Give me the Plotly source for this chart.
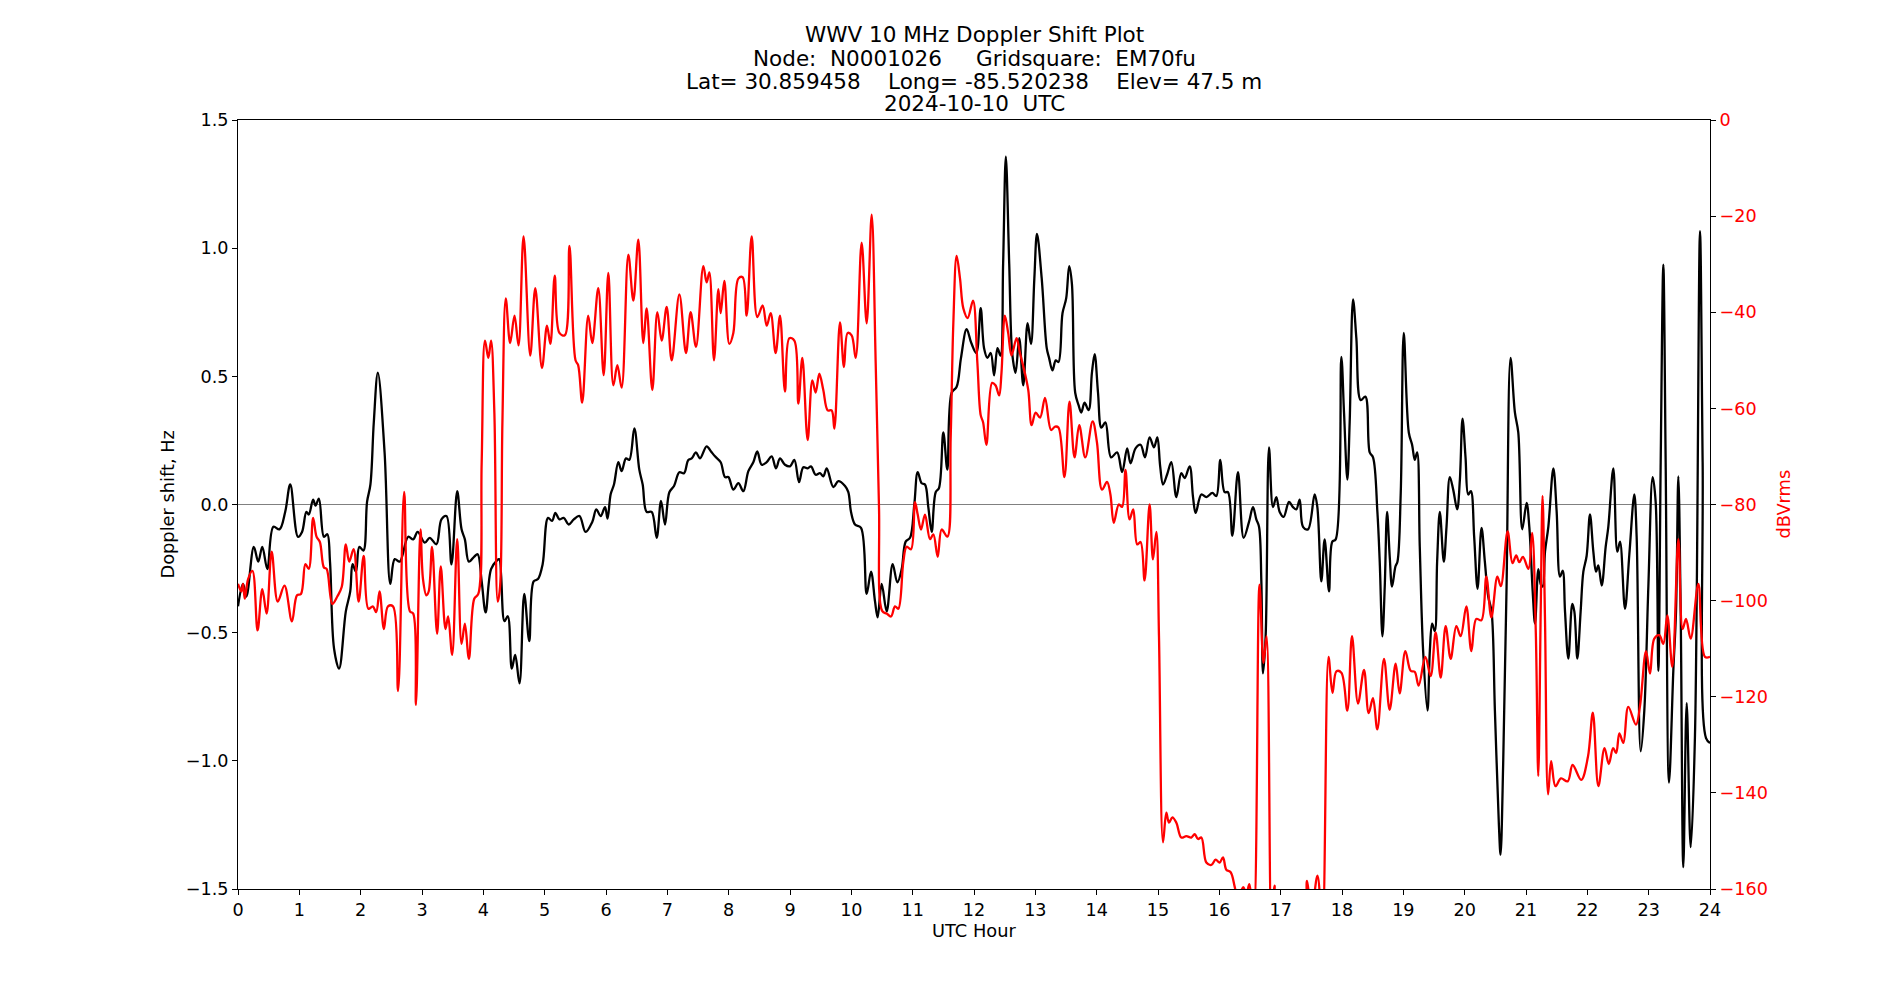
import plotly.graph_objects as go

# ---- Data ----
black_hours = [
    0.000, 0.082, 0.137, 0.258, 0.330, 0.396, 0.478, 0.577, 0.676, 0.769,
    0.852, 0.978, 1.044, 1.115, 1.154, 1.225, 1.264, 1.319, 1.401, 1.456,
    1.500, 1.566, 1.648, 1.758, 1.830, 1.868, 1.923, 1.978, 2.044, 2.104,
    2.159, 2.214, 2.280, 2.390, 2.484, 2.555, 2.637, 2.775, 2.857, 2.929,
    3.044, 3.126, 3.235, 3.317, 3.399, 3.481, 3.574, 3.645, 3.699, 3.765,
    3.852, 3.907, 3.973, 4.038, 4.126, 4.219, 4.257, 4.344, 4.399, 4.464,
    4.519, 4.590, 4.667, 4.749, 4.820, 4.891, 4.967, 5.055, 5.120, 5.175,
    5.240, 5.311, 5.393, 5.475, 5.568, 5.667, 5.776, 5.842, 5.913, 5.984,
    6.025, 6.076, 6.130, 6.201, 6.255, 6.326, 6.380, 6.462, 6.543, 6.598,
    6.663, 6.745, 6.826, 6.897, 6.962, 7.033, 7.109, 7.196, 7.272, 7.342,
    7.397, 7.467, 7.533, 7.641, 7.712, 7.777, 7.870, 7.940, 7.995, 8.076,
    8.158, 8.239, 8.321, 8.402, 8.467, 8.538, 8.620, 8.701, 8.772, 8.837,
    8.918, 9.000, 9.071, 9.147, 9.217, 9.288, 9.342, 9.418, 9.489, 9.543,
    9.598, 9.707, 9.788, 9.897, 9.951, 9.995, 10.060, 10.158, 10.250, 10.321,
    10.386, 10.429, 10.495, 10.576, 10.674, 10.750, 10.821, 10.886, 10.957, 11.027,
    11.082, 11.147, 11.201, 11.255, 11.310, 11.375, 11.429, 11.500, 11.565, 11.636,
    11.717, 11.788, 11.880, 11.956, 12.038, 12.109, 12.164, 12.219, 12.273, 12.328,
    12.383, 12.432, 12.475, 12.519, 12.574, 12.623, 12.678, 12.738, 12.803, 12.874,
    12.929, 12.984, 13.027, 13.104, 13.186, 13.224, 13.279, 13.333, 13.377, 13.443,
    13.503, 13.552, 13.596, 13.650, 13.705, 13.749, 13.803, 13.869, 13.923, 13.967,
    14.022, 14.077, 14.142, 14.235, 14.333, 14.415, 14.497, 14.552, 14.634, 14.716,
    14.787, 14.863, 14.934, 14.989, 15.035, 15.082, 15.147, 15.217, 15.299, 15.380,
    15.435, 15.516, 15.571, 15.614, 15.707, 15.788, 15.886, 15.951, 16.016, 16.087,
    16.141, 16.212, 16.304, 16.397, 16.484, 16.549, 16.603, 16.647, 16.685, 16.712,
    16.755, 16.810, 16.875, 16.929, 16.984, 17.049, 17.136, 17.201, 17.255, 17.310,
    17.364, 17.446, 17.554, 17.598, 17.663, 17.717, 17.788, 17.842, 17.897, 17.989,
    18.033, 18.087, 18.125, 18.180, 18.234, 18.305, 18.381, 18.452, 18.506, 18.577,
    18.615, 18.659, 18.697, 18.735, 18.778, 18.816, 18.871, 18.904, 18.958, 19.007,
    19.089, 19.143, 19.187, 19.225, 19.268, 19.323, 19.394, 19.432, 19.470, 19.513,
    19.551, 19.595, 19.660, 19.704, 19.758, 19.813, 19.878, 19.922, 19.965, 20.014,
    20.058, 20.101, 20.155, 20.210, 20.275, 20.329, 20.384, 20.438, 20.493, 20.558,
    20.585, 20.629, 20.683, 20.748, 20.819, 20.874, 20.939, 21.010, 21.054, 21.109,
    21.147, 21.201, 21.239, 21.272, 21.310, 21.364, 21.446, 21.500, 21.554, 21.598,
    21.636, 21.690, 21.755, 21.788, 21.837, 21.891, 21.935, 21.989, 22.043, 22.098,
    22.141, 22.179, 22.234, 22.299, 22.342, 22.424, 22.489, 22.533, 22.614, 22.685,
    22.766, 22.804, 22.870, 22.929, 22.995, 23.065, 23.114, 23.158, 23.196, 23.239,
    23.277, 23.332, 23.402, 23.446, 23.484, 23.522, 23.565, 23.620, 23.685, 23.755,
    23.837, 23.880, 23.935, 24.000,
]
doppler_hz = [
    -0.397, -0.310, -0.359, -0.165, -0.223, -0.165, -0.252, -0.087, -0.097, -0.029,
    0.078, -0.126, -0.107, -0.029, -0.039, 0.019, -0.004, 0.023, -0.126, -0.116,
    -0.223, -0.562, -0.640, -0.417, -0.339, -0.233, -0.262, -0.165, -0.180, 0.010,
    0.078, 0.320, 0.514, 0.203, -0.310, -0.213, -0.223, -0.126, -0.136, -0.107,
    -0.149, -0.130, -0.155, -0.058, -0.045, -0.233, 0.052, -0.097, -0.136, -0.223,
    -0.203, -0.194, -0.300, -0.421, -0.252, -0.219, -0.213, -0.455, -0.436, -0.640,
    -0.587, -0.698, -0.349, -0.533, -0.300, -0.291, -0.233, -0.052, -0.064, -0.033,
    -0.058, -0.052, -0.078, -0.058, -0.045, -0.107, -0.068, -0.019, -0.045, -0.010,
    -0.055, 0.040, 0.078, 0.165, 0.130, 0.180, 0.174, 0.297, 0.136, 0.078,
    -0.029, -0.029, -0.130, 0.014, -0.078, 0.048, 0.072, 0.126, 0.122, 0.174,
    0.180, 0.203, 0.180, 0.227, 0.207, 0.188, 0.165, 0.107, 0.107, 0.058,
    0.083, 0.052, 0.130, 0.165, 0.207, 0.155, 0.165, 0.188, 0.141, 0.180,
    0.155, 0.149, 0.174, 0.087, 0.145, 0.141, 0.149, 0.116, 0.122, 0.110,
    0.141, 0.068, 0.091, 0.072, 0.048, -0.029, -0.078, -0.091, -0.349, -0.262,
    -0.378, -0.440, -0.310, -0.417, -0.233, -0.304, -0.252, -0.145, -0.130, 0.000,
    0.126, 0.083, 0.078, -0.010, -0.107, 0.048, 0.064, 0.281, 0.136, 0.436,
    0.459, 0.572, 0.684, 0.630, 0.591, 0.766, 0.610, 0.572, 0.591, 0.504,
    0.610, 0.581, 0.940, 1.357, 0.940, 0.591, 0.514, 0.649, 0.465, 0.707,
    0.626, 0.882, 1.056, 0.882, 0.610, 0.572, 0.523, 0.562, 0.556, 0.746,
    0.804, 0.930, 0.862, 0.436, 0.388, 0.359, 0.397, 0.368, 0.514, 0.587,
    0.436, 0.300, 0.320, 0.184, 0.203, 0.126, 0.219, 0.161, 0.219, 0.233,
    0.184, 0.262, 0.223, 0.262, 0.150, 0.078, 0.116, 0.165, 0.029, 0.122,
    0.103, 0.149, 0.029, -0.033, 0.039, 0.029, 0.045, 0.033, 0.174, 0.048,
    0.048, -0.122, 0.126, -0.130, -0.068, -0.010, -0.058, -0.087, -0.300, -0.659,
    -0.514, 0.223, -0.010, 0.029, -0.029, -0.048, 0.010, -0.010, -0.019, 0.019,
    -0.087, -0.097, 0.039, -0.010, -0.300, -0.136, -0.339, -0.145, -0.136, 0.576,
    0.359, 0.097, 0.320, 0.800, 0.649, 0.407, 0.421, 0.203, 0.184, -0.029,
    -0.223, -0.514, -0.320, -0.029, -0.203, -0.320, -0.242, -0.223, 0.048, 0.669,
    0.281, 0.233, 0.174, 0.203, -0.165, -0.572, -0.804, -0.572, -0.465, -0.494,
    -0.223, -0.029, -0.223, -0.087, 0.107, 0.058, -0.019, 0.097, 0.335, 0.184,
    0.039, 0.052, -0.126, -0.329, -0.091, -0.223, -0.359, -0.417, -0.804, -1.250,
    -1.366, -0.998, -0.320, 0.572, 0.359, 0.281, -0.097, 0.006, -0.087, -0.339,
    -0.465, -0.252, -0.310, -0.320, -0.184, -0.087, 0.141, -0.029, -0.281, -0.258,
    -0.417, -0.601, -0.388, -0.417, -0.601, -0.417, -0.262, -0.200, -0.039, -0.184,
    -0.262, -0.238, -0.316, -0.165, -0.087, 0.141, -0.184, -0.145, -0.407, -0.194,
    0.039, -0.126, -0.963, -0.804, -0.320, 0.107, 0.010, -0.649, 0.165, 0.936,
    0.165, -1.085, -0.649, -0.417, 0.110, -0.417, -1.415, -0.775, -1.337, -0.901,
    1.066, 0.165, -0.911, -0.930,
]

red_hours = [
    0.000, 0.055, 0.082, 0.110, 0.165, 0.236, 0.319, 0.396, 0.467, 0.549,
    0.648, 0.758, 0.879, 0.962, 1.027, 1.099, 1.154, 1.225, 1.280, 1.335,
    1.401, 1.445, 1.538, 1.621, 1.692, 1.758, 1.813, 1.885, 1.967, 2.049,
    2.126, 2.198, 2.253, 2.308, 2.379, 2.445, 2.527, 2.610, 2.709, 2.802,
    2.857, 2.901, 2.975, 3.016, 3.071, 3.109, 3.164, 3.246, 3.306, 3.383,
    3.426, 3.492, 3.574, 3.645, 3.699, 3.765, 3.852, 3.918, 3.973, 4.027,
    4.082, 4.126, 4.180, 4.235, 4.273, 4.311, 4.366, 4.437, 4.508, 4.574,
    4.656, 4.765, 4.847, 4.956, 5.038, 5.093, 5.164, 5.240, 5.328, 5.404,
    5.503, 5.546, 5.612, 5.710, 5.776, 5.874, 5.962, 6.038, 6.120, 6.185,
    6.255, 6.364, 6.446, 6.527, 6.609, 6.663, 6.755, 6.837, 6.908, 6.989,
    7.071, 7.196, 7.304, 7.380, 7.467, 7.587, 7.641, 7.685, 7.761, 7.832,
    7.870, 7.929, 8.011, 8.076, 8.158, 8.228, 8.293, 8.375, 8.467, 8.554,
    8.620, 8.685, 8.766, 8.837, 8.918, 8.989, 9.071, 9.136, 9.201, 9.288,
    9.364, 9.418, 9.478, 9.543, 9.614, 9.679, 9.723, 9.815, 9.880, 9.940,
    10.005, 10.071, 10.168, 10.250, 10.332, 10.397, 10.451, 10.505, 10.576, 10.647,
    10.712, 10.766, 10.848, 10.902, 10.973, 11.038, 11.082, 11.136, 11.201, 11.283,
    11.337, 11.408, 11.473, 11.565, 11.620, 11.663, 11.717, 11.772, 11.826, 11.897,
    11.984, 12.055, 12.109, 12.148, 12.202, 12.295, 12.350, 12.410, 12.448, 12.503,
    12.557, 12.612, 12.694, 12.749, 12.820, 12.885, 12.940, 13.005, 13.077, 13.158,
    13.257, 13.322, 13.377, 13.475, 13.557, 13.639, 13.716, 13.814, 13.934, 14.005,
    14.087, 14.169, 14.224, 14.279, 14.361, 14.415, 14.470, 14.536, 14.596, 14.661,
    14.716, 14.781, 14.863, 14.918, 14.973, 15.016, 15.082, 15.136, 15.179, 15.234,
    15.299, 15.380, 15.462, 15.543, 15.598, 15.652, 15.707, 15.788, 15.870, 15.940,
    16.005, 16.060, 16.114, 16.185, 16.250, 16.300, 16.390, 16.440, 16.490, 16.560,
    16.655, 16.720, 16.770, 16.850, 16.900, 16.950, 17.350, 17.430, 17.500, 17.600,
    17.680, 17.780, 17.845, 17.910, 17.990, 18.087, 18.163, 18.261, 18.359, 18.435,
    18.505, 18.576, 18.685, 18.777, 18.875, 18.940, 19.033, 19.120, 19.185, 19.250,
    19.359, 19.446, 19.527, 19.609, 19.690, 19.772, 19.864, 19.935, 20.027, 20.109,
    20.190, 20.272, 20.353, 20.435, 20.533, 20.590, 20.700, 20.780, 20.840, 20.890,
    20.950, 21.040, 21.100, 21.160, 21.200, 21.240, 21.270, 21.310, 21.360, 21.410,
    21.480, 21.570, 21.680, 21.760, 21.900, 22.010, 22.090, 22.180, 22.280, 22.350,
    22.420, 22.470, 22.522, 22.587, 22.668, 22.793, 22.859, 22.957, 23.022, 23.092,
    23.174, 23.239, 23.304, 23.386, 23.484, 23.554, 23.609, 23.685, 23.810, 23.918,
    24.000,
]
power_dbv = [
    -96.5, -98.1, -96.5, -99.6, -95.5, -93.8, -106.2, -97.6, -102.7, -89.8,
    -100.2, -96.9, -104.3, -98.9, -98.6, -92.4, -93.4, -82.8, -86.7, -87.8,
    -93.1, -93.4, -100.7, -99.1, -97.1, -88.3, -91.9, -89.3, -100.2, -90.7,
    -101.7, -101.2, -102.4, -98.1, -105.9, -101.2, -101.2, -118.8, -77.4, -102.2,
    -102.7, -121.7, -85.2, -95.5, -98.9, -98.1, -88.8, -106.9, -92.9, -105.9,
    -103.3, -111.3, -87.2, -109.0, -104.8, -112.1, -99.6, -98.6, -71.2, -45.9,
    -49.5, -45.9, -60.9, -100.2, -97.1, -62.9, -37.1, -46.4, -40.7, -46.9,
    -24.2, -49.0, -35.0, -51.6, -42.8, -46.6, -32.4, -44.3, -44.8, -26.2,
    -50.0, -51.0, -58.8, -40.7, -46.4, -35.0, -53.1, -31.8, -55.2, -51.0,
    -55.7, -28.0, -37.6, -24.9, -46.4, -39.2, -56.2, -40.0, -45.9, -38.9,
    -50.0, -36.3, -48.5, -40.0, -47.2, -30.4, -33.8, -31.7, -50.0, -35.2,
    -40.2, -33.5, -46.6, -44.3, -33.0, -32.7, -40.7, -24.2, -41.0, -38.6,
    -42.8, -40.2, -48.5, -40.7, -56.5, -45.4, -45.9, -59.0, -49.5, -66.6,
    -54.2, -56.7, -52.8, -56.2, -60.4, -60.4, -64.2, -42.1, -51.4, -44.3,
    -44.8, -49.5, -25.5, -42.3, -19.7, -50.5, -80.5, -102.2, -102.7, -103.3,
    -101.2, -101.7, -91.9, -88.8, -89.3, -79.5, -82.1, -85.2, -82.1, -87.2,
    -86.2, -90.9, -85.2, -86.7, -66.0, -42.3, -28.3, -33.0, -39.2, -41.2,
    -37.6, -50.5, -61.4, -62.9, -67.6, -54.7, -55.2, -57.3, -52.6, -40.7,
    -44.3, -49.0, -45.4, -48.5, -52.1, -56.2, -63.5, -60.9, -61.9, -57.8,
    -64.5, -63.8, -64.0, -74.3, -58.6, -70.2, -63.5, -70.2, -62.7, -67.1,
    -76.9, -75.3, -77.9, -83.8, -80.0, -80.5, -72.8, -83.1, -81.0, -88.3,
    -87.8, -95.8, -80.0, -91.4, -85.7, -107.4, -150.3, -144.1, -146.2, -145.1,
    -146.2, -149.3, -149.0, -149.3, -148.6, -149.6, -149.3, -154.5, -155.0, -153.9,
    -154.5, -153.4, -156.0, -156.5, -159.5, -162.0, -159.6, -161.0, -159.0, -166.0,
    -96.7, -113.0, -107.4, -168.0, -159.3, -168.0, -168.0, -158.3, -165.0, -157.2,
    -168.0, -111.7, -119.2, -114.7, -115.0, -122.9, -107.4, -121.4, -114.4, -123.4,
    -120.3, -126.8, -112.1, -122.7, -113.1, -119.3, -110.5, -114.6, -114.8, -117.7,
    -111.7, -115.7, -106.6, -116.0, -105.3, -112.1, -105.3, -107.4, -101.2, -110.5,
    -103.8, -104.1, -95.0, -103.5, -95.0, -97.0, -85.6, -92.2, -90.6, -92.0,
    -90.9, -93.4, -85.9, -106.7, -136.5, -102.0, -78.2, -104.0, -140.3, -133.4,
    -138.6, -137.0, -137.6, -134.2, -137.3, -132.5, -123.3, -138.6, -130.7, -134.0,
    -130.7, -131.7, -127.6, -129.6, -122.1, -125.8, -121.9, -110.5, -115.2, -107.9,
    -107.2, -109.0, -103.1, -113.8, -87.2, -105.9, -103.8, -107.9, -96.5, -111.7,
    -111.7,
]

x_ticks = list(range(0, 25))
y_ticks = [-1.5, -1.0, -0.5, 0.0, 0.5, 1.0, 1.5]
y2_ticks = [0, -20, -40, -60, -80, -100, -120, -140, -160]

title_lines = [
    "WWV 10 MHz Doppler Shift Plot",
    "Node:  N0001026     Gridsquare:  EM70fu",
    "Lat= 30.859458    Long= -85.520238    Elev= 47.5 m",
    "2024-10-10  UTC",
]

FONT = "DejaVu Sans"
NB = "\u00a0"
TICK_SIZE = 17.6
LABEL_SIZE = 17.8
TITLE_SIZE = 21.5

fig = go.Figure()
fig.add_trace(go.Scatter(
    x=black_hours, y=doppler_hz, mode="lines", yaxis="y",
    line=dict(color="black", width=2.3, shape="spline", smoothing=1.0),
    showlegend=False, hoverinfo="skip",
))
fig.add_trace(go.Scatter(
    x=red_hours, y=power_dbv, mode="lines", yaxis="y2",
    line=dict(color="red", width=2.3, shape="spline", smoothing=1.0),
    showlegend=False, hoverinfo="skip",
))

L, R, T, B = 238, 190, 120, 111
W, H = 1900, 1000
ph = H - T - B

fig.add_shape(type="line", xref="paper", yref="y", x0=0, x1=1, y0=0, y1=0,
              line=dict(color="#808080", width=1.2), layer="below")

annotations = []
centers = [35, 58, 81, 104]
for line, cy in zip(title_lines, centers):
    txt = line.replace(" ", NB)
    annotations.append(dict(
        text=txt, xref="paper", yref="paper", x=0.5, y=(H - B - cy) / ph,
        xanchor="center", yanchor="middle", showarrow=False,
        font=dict(family=FONT, size=TITLE_SIZE, color="black"),
    ))
annotations.append(dict(
    text="Doppler shift, Hz", xref="paper", yref="paper", x=0, y=0.5,
    xshift=167 - L, xanchor="center", yanchor="middle", textangle=-90,
    showarrow=False, font=dict(family=FONT, size=LABEL_SIZE, color="black"),
))
annotations.append(dict(
    text="dBVrms", xref="paper", yref="paper", x=1, y=0.5,
    xshift=1783 - (W - R), xanchor="center", yanchor="middle", textangle=-90,
    showarrow=False, font=dict(family=FONT, size=LABEL_SIZE, color="red"),
))
annotations.append(dict(
    text="UTC Hour", xref="paper", yref="paper", x=0.5, y=0,
    yshift=-(930 - (H - B)), xanchor="center", yanchor="middle",
    showarrow=False, font=dict(family=FONT, size=LABEL_SIZE, color="black"),
))

fig.update_layout(
    width=W, height=H,
    margin=dict(l=L, r=R, t=T, b=B, pad=0),
    paper_bgcolor="white", plot_bgcolor="white",
    font=dict(family=FONT, size=TICK_SIZE, color="black"),
    annotations=annotations,
    xaxis=dict(
        range=[0, 24], tickvals=x_ticks, ticks="outside", ticklen=5, tickwidth=1,
        tickcolor="black", showline=True, linecolor="black", linewidth=1,
        mirror=True, showgrid=False, zeroline=False, automargin=False,
        tickfont=dict(family=FONT, size=TICK_SIZE, color="black"),
    ),
    yaxis=dict(
        range=[-1.5, 1.5], tickvals=y_ticks, tickformat=".1f", ticks="outside",
        ticklen=5, tickwidth=1, tickcolor="black", showline=True,
        linecolor="black", linewidth=1, mirror=True, showgrid=False,
        zeroline=False, automargin=False,
        tickfont=dict(family=FONT, size=TICK_SIZE, color="black"),
    ),
    yaxis2=dict(
        range=[-160, 0], tickvals=y2_ticks, tickformat="d", overlaying="y",
        side="right", anchor="x", ticks="outside", ticklen=5, tickwidth=1,
        tickcolor="black", showline=True, linecolor="black", linewidth=1,
        showgrid=False, zeroline=False, automargin=False,
        tickfont=dict(family=FONT, size=TICK_SIZE, color="red"),
    ),
)

fig.write_html("out.html")
